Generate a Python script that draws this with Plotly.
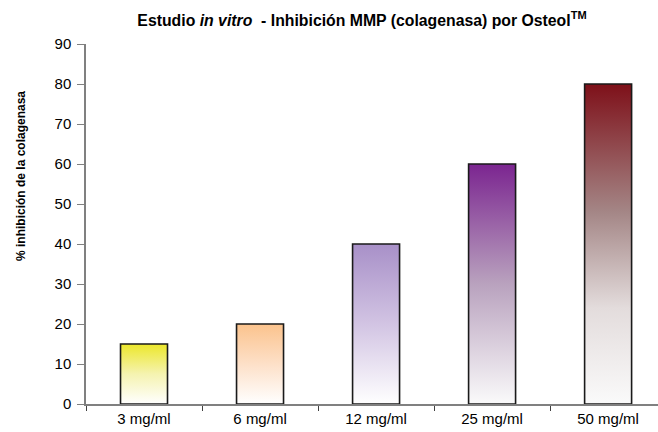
import plotly.graph_objects as go

categories = ["3 mg/ml", "6 mg/ml", "12 mg/ml", "25 mg/ml", "50 mg/ml"]
values = [15, 20, 40, 60, 80]
y_ticks = [0, 10, 20, 30, 40, 50, 60, 70, 80, 90]
# gradient colour stops per bar (bottom -> top)
gradients = [
    [[0, "#FFFFFF"], [0.5, "#F5F3B0"], [1, "#ECE72A"]],
    [[0, "#FFFFFF"], [0.5, "#FDE0C8"], [1, "#FBC38D"]],
    [[0, "#FFFFFF"], [0.5, "#D2C4E3"], [1, "#A890C8"]],
    [[0, "#FAFAFA"], [0.5, "#B9A2BE"], [1, "#7B2590"]],
    [[0, "#FAFAFA"], [0.3, "#E3DCDC"], [0.6, "#A48686"], [1, "#7E1019"]],
]

FONT = "Liberation Sans, Arial, sans-serif"
bar_w = 0.405

fig = go.Figure()
for i, (cat, v, g) in enumerate(zip(categories, values, gradients)):
    x0, x1 = i - bar_w / 2, i + bar_w / 2
    fig.add_trace(go.Scatter(
        x=[x0, x1, x1, x0, x0], y=[0, 0, v, v, 0],
        mode="lines", fill="toself",
        fillgradient=dict(type="vertical", colorscale=g),
        line=dict(color="#1a1a1a", width=1.6),
        name=cat, hoverinfo="skip", showlegend=False,
    ))

fig.update_layout(
    width=658, height=432,
    margin=dict(l=86, r=0, t=44, b=28),
    plot_bgcolor="white", paper_bgcolor="white",
    font=dict(family=FONT, color="black"),
    title=dict(
        text="<b>Estudio <i>in vitro</i>  - Inhibición MMP (colagenasa) por Osteol<sup>TM</sup></b>",
        font=dict(size=15.8, family=FONT, color="black"),
        x=362 / 658, xref="container", xanchor="center",
        y=1 - 20 / 432, yref="container", yanchor="middle",
    ),
    xaxis=dict(
        range=[-0.5, 4.43],
        tickvals=list(range(len(categories))), ticktext=categories,
        ticks="", showgrid=False, zeroline=False,
        showline=True, linecolor="#808080", linewidth=1.5,
        tickfont=dict(size=15, family=FONT, color="black"),
        minor=dict(tickvals=[i - 0.5 for i in range(len(categories) + 1)],
                   ticks="outside", ticklen=5, tickcolor="#404040", tickwidth=1.2,
                   showgrid=False),
        fixedrange=True,
    ),
    yaxis=dict(
        range=[0, 90], tickvals=y_ticks,
        ticks="outside", ticklen=7, tickcolor="#808080", tickwidth=1.2,
        ticklabelstandoff=3,
        showgrid=False, zeroline=False,
        showline=True, linecolor="#808080", linewidth=1.5,
        tickfont=dict(size=15, family=FONT, color="black"),
        fixedrange=True,
    ),
    annotations=[dict(
        text="<b>% inhibición de la colagenasa</b>",
        textangle=-90, xref="paper", yref="paper",
        x=-86 / (658 - 86) + 21 / (658 - 86), y=(404 - 263) / 360,
        xanchor="center", yanchor="bottom", showarrow=False,
        font=dict(size=12, family=FONT, color="black"),
    )],
)

fig.write_html("out.html", config={"displayModeBar": False})

# remove the browser's default page margin so the figure sits at (0, 0)
with open("out.html", encoding="utf-8") as f:
    html = f.read()
html = html.replace("<head>", "<head><style>html,body{margin:0;padding:0;overflow:hidden;}</style>", 1)
with open("out.html", "w", encoding="utf-8") as f:
    f.write(html)
